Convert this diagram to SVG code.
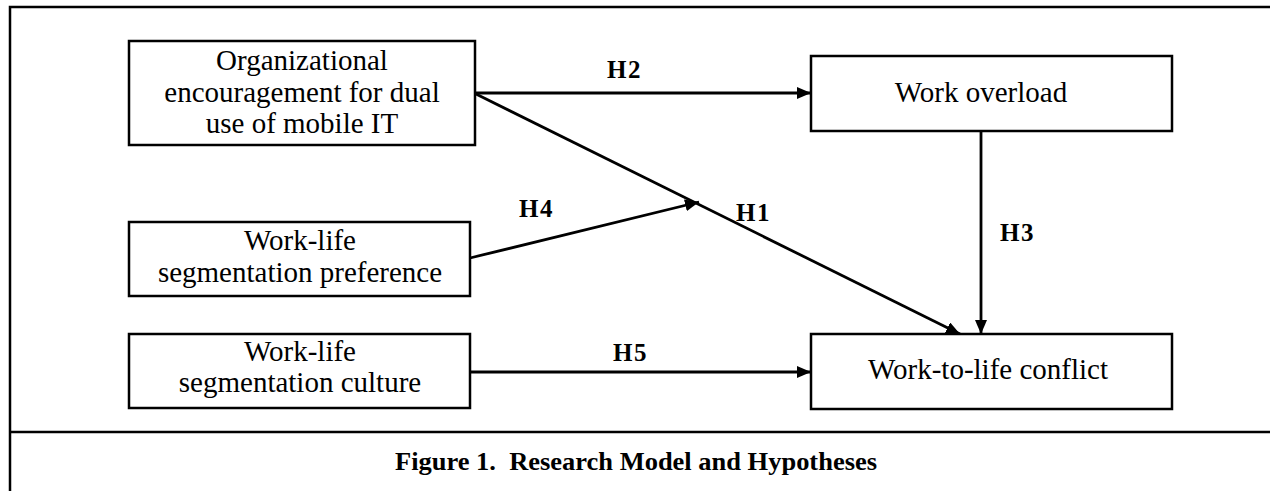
<svg xmlns="http://www.w3.org/2000/svg" width="1270" height="491" viewBox="0 0 1270 491">
<style>
.frame{stroke:#000;stroke-width:2.5;fill:none}
.box{fill:#fff;stroke:#000;stroke-width:2.5}
.lbl{font-family:"Liberation Serif",serif;font-size:29px;fill:#000;text-anchor:middle}
.h{font-family:"Liberation Serif",serif;font-size:25px;font-weight:bold;fill:#000;letter-spacing:1.5px}
.cap{font-family:"Liberation Serif",serif;font-size:26px;font-weight:bold;fill:#000;white-space:pre}
.conn{stroke:#000;stroke-width:2.8;fill:none}
</style>
<defs>
<marker id="arr" viewBox="0 0 14 12" refX="14" refY="6" markerWidth="14" markerHeight="12" markerUnits="userSpaceOnUse" orient="auto">
<path d="M0,0 L14,6 L0,12 Z" fill="#000"/>
</marker>
</defs>
<rect width="1270" height="491" fill="#fff"/>
<g id="frame">
<path class="frame" d="M1270,7 H10 V491 M10,432 H1270"/>
</g>
<g id="connectors">
<line class="conn" x1="474" y1="93" x2="811" y2="93" marker-end="url(#arr)"/>
<line class="conn" x1="474" y1="93" x2="960" y2="334" marker-end="url(#arr)"/>
<line class="conn" x1="470" y1="258" x2="699" y2="202" marker-end="url(#arr)"/>
<line class="conn" x1="981" y1="131" x2="981" y2="334" marker-end="url(#arr)"/>
<line class="conn" x1="471" y1="372" x2="811" y2="372" marker-end="url(#arr)"/>
<text class="h" x="607" y="78">H2</text>
<text class="h" x="519" y="217">H4</text>
<text class="h" x="736" y="221">H1</text>
<text class="h" x="1000" y="241">H3</text>
<text class="h" x="613" y="361">H5</text>
</g>
<g id="n1">
<rect class="box" x="129" y="41" width="346" height="104"/>
<text class="lbl" x="302" y="70">Organizational</text>
<text class="lbl" x="302" y="102">encouragement for dual</text>
<text class="lbl" x="302" y="133">use of mobile IT</text>
</g>
<g id="n2">
<rect class="box" x="129" y="222" width="341" height="74"/>
<text class="lbl" x="300" y="250">Work-life</text>
<text class="lbl" x="300" y="282">segmentation preference</text>
</g>
<g id="n3">
<rect class="box" x="129" y="334" width="341" height="74"/>
<text class="lbl" x="300" y="361">Work-life</text>
<text class="lbl" x="300" y="392">segmentation culture</text>
</g>
<g id="n4">
<rect class="box" x="811" y="56" width="361" height="75"/>
<text class="lbl" x="981" y="102">Work overload</text>
</g>
<g id="n5">
<rect class="box" x="811" y="334" width="361" height="75"/>
<text class="lbl" x="988" y="379">Work-to-life conflict</text>
</g>
<g id="caption">
<text class="cap" x="395" y="470" textLength="482" lengthAdjust="spacingAndGlyphs">Figure 1.  Research Model and Hypotheses</text>
</g>
</svg>
